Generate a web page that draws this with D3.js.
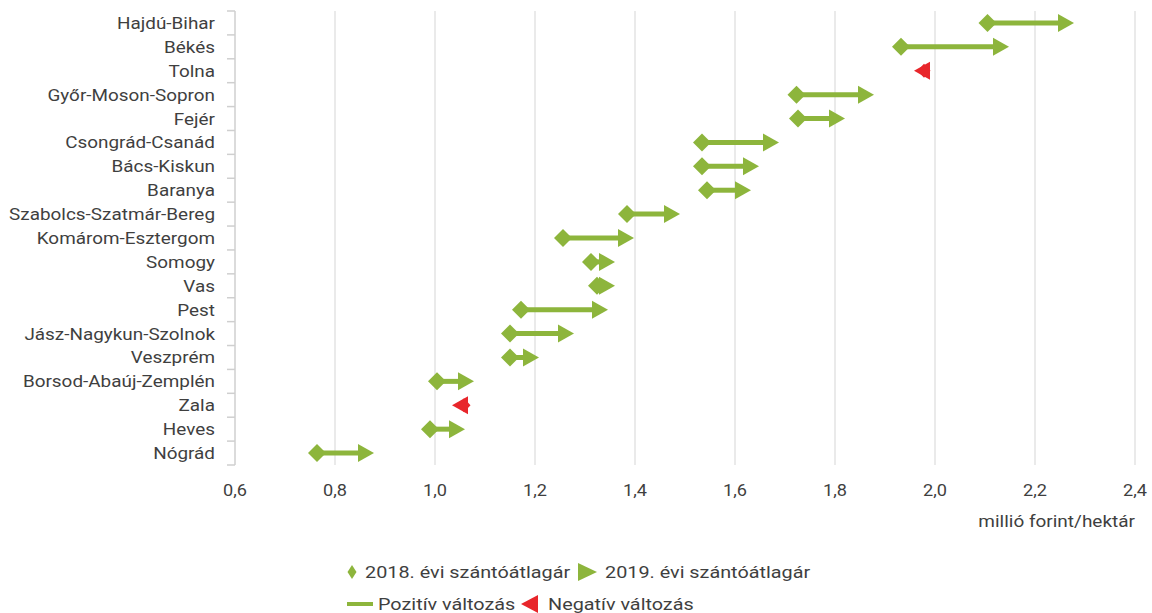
<!DOCTYPE html>
<html><head><meta charset="utf-8">
<script src="https://cdn.jsdelivr.net/npm/d3@7"></script>
<style>
body{margin:0;background:#fff;}
text{font-family:Roboto,"Noto Sans",sans-serif;fill:#3f3f3f;}
</style></head>
<body><svg id="c" width="1152" height="613"></svg>
<script>
const categories = ["Hajdú-Bihar","Békés","Tolna","Győr-Moson-Sopron","Fejér","Csongrád-Csanád","Bács-Kiskun","Baranya","Szabolcs-Szatmár-Bereg","Komárom-Esztergom","Somogy","Vas","Pest","Jász-Nagykun-Szolnok","Veszprém","Borsod-Abaúj-Zemplén","Zala","Heves","Nógrád"];
const values2018 = [2.105,1.932,1.978,1.723,1.726,1.534,1.534,1.544,1.384,1.256,1.312,1.324,1.172,1.150,1.150,1.004,1.058,0.990,0.764];
const values2019 = [2.278,2.148,1.958,1.878,1.820,1.688,1.648,1.632,1.490,1.398,1.360,1.360,1.346,1.278,1.208,1.078,1.034,1.060,0.878];
const xTicks = [0.6,0.8,1.0,1.2,1.4,1.6,1.8,2.0,2.2,2.4];
const xTitle = "millió forint/hektár";
const legendLabels = ["2018. évi szántóátlagár","2019. évi szántóátlagár","Pozitív változás","Negatív változás"];

const GREEN = "#8db53c", RED = "#e8262b";
const svg = d3.select("#c");
const x = d3.scaleLinear().domain([0.6,2.4]).range([235,1135]);
const y = d3.scaleBand().domain(categories).range([11,465]);
const fmt = d => d.toFixed(1).replace(".", ",");

function stretch(sel, k){
  sel.each(function(){
    const w = this.getComputedTextLength();
    d3.select(this).attr("textLength", w*k).attr("lengthAdjust","spacingAndGlyphs");
  });
}

// grid
svg.append("g").selectAll("line").data(xTicks.slice(1)).join("line")
  .attr("x1",d=>x(d)).attr("x2",d=>x(d)).attr("y1",11).attr("y2",465)
  .attr("stroke","#e3e3e3").attr("stroke-width",1.5);

// x labels
svg.append("g").selectAll("text").data(xTicks).join("text")
  .attr("x",d=>x(d)).attr("y",496).attr("text-anchor","middle")
  .style("font-size","16.5px").text(fmt).call(stretch,1.1);
svg.append("text").attr("x",1135).attr("y",527).attr("text-anchor","end")
  .style("font-size","16.5px").text(xTitle).call(stretch,1.15);

// y axis
const yAxis = svg.append("g");
yAxis.append("line").attr("x1",235).attr("x2",235).attr("y1",11).attr("y2",465)
  .attr("stroke","#cfcfcf").attr("stroke-width",1.5);
const bounds = categories.map(c=>y(c)).concat([y.range()[1]]);
yAxis.selectAll("line.t").data(bounds).join("line").attr("class","t")
  .attr("x1",227).attr("x2",235).attr("y1",d=>d).attr("y2",d=>d)
  .attr("stroke","#cfcfcf").attr("stroke-width",1.5);
yAxis.selectAll("text").data(categories).join("text")
  .attr("x",215).attr("y",d=>y(d)+y.bandwidth()/2+6).attr("text-anchor","end")
  .style("font-size","16.5px").text(d=>d).call(stretch,1.145);

// marks
const rows = categories.map((c,i)=>({c, a:values2018[i], b:values2019[i]}));
const g = svg.append("g");
const TL = 16, TH = 9, DW = 9, DH = 9;
rows.forEach(r=>{
  const cy = y(r.c)+y.bandwidth()/2;
  const xa = x(r.a), xb = x(r.b);
  const pos = r.b >= r.a;
  const col = pos ? GREEN : RED;
  const dir = pos ? 1 : -1;
  g.append("line").attr("x1",xa).attr("x2",xb - dir*(TL-2)).attr("y1",cy).attr("y2",cy)
    .attr("stroke",col).attr("stroke-width",5);
  const dw = pos ? DW : 6.5, dh = pos ? DH : 7;
  g.append("path").attr("d",`M${xa-dw},${cy}L${xa},${cy-dh}L${xa+dw},${cy}L${xa},${cy+dh}Z`).attr("fill",col);
  g.append("path").attr("d",`M${xb},${cy}L${xb-dir*TL},${cy-TH}L${xb-dir*TL},${cy+TH}Z`).attr("fill",col);
});

// legend
const lg = svg.append("g");
lg.append("path").attr("d","M352,565L356.5,572L352,579L347.5,572Z").attr("fill",GREEN);
lg.append("text").attr("x",365).attr("y",578).style("font-size","17px").text(legendLabels[0]).call(stretch,1.165);
lg.append("path").attr("d","M578,563L597,572L578,581Z").attr("fill",GREEN);
lg.append("text").attr("x",605).attr("y",578).style("font-size","17px").text(legendLabels[1]).call(stretch,1.165);
lg.append("line").attr("x1",347).attr("x2",373).attr("y1",604).attr("y2",604).attr("stroke",GREEN).attr("stroke-width",4);
lg.append("text").attr("x",378).attr("y",610).style("font-size","17px").text(legendLabels[2]).call(stretch,1.165);
lg.append("path").attr("d","M521,604L538,595L538,613Z").attr("fill",RED);
lg.append("text").attr("x",548).attr("y",610).style("font-size","17px").text(legendLabels[3]).call(stretch,1.165);
</script></body></html>
